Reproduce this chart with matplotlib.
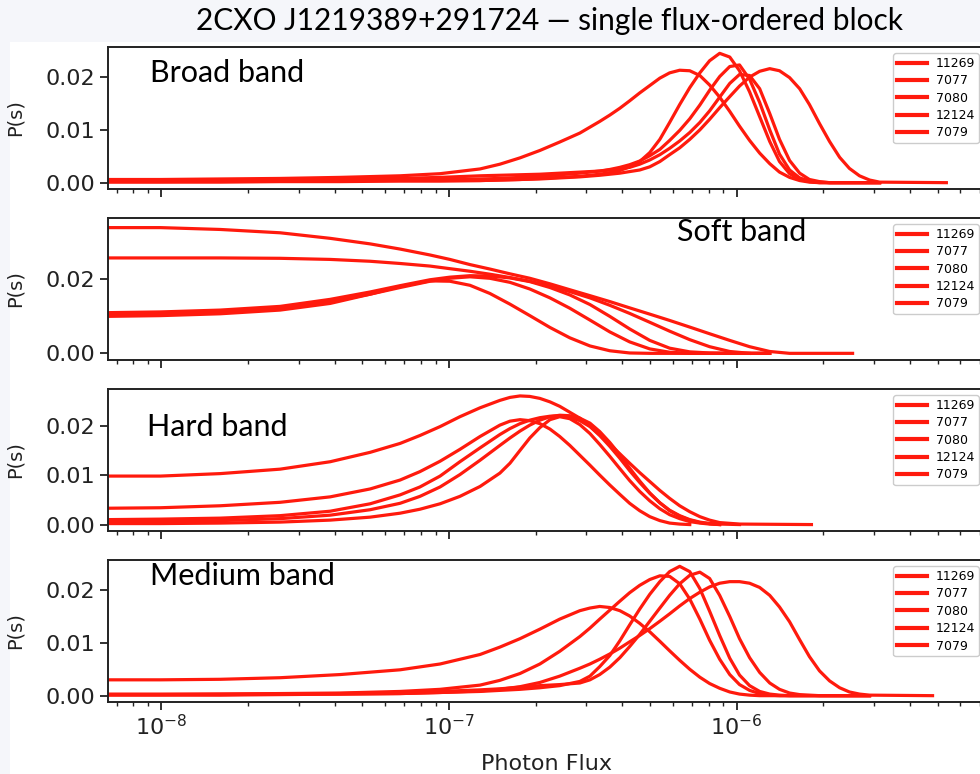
import matplotlib
matplotlib.use("Agg")
import matplotlib.pyplot as plt
import numpy as np
from matplotlib.patches import Rectangle
from matplotlib.ticker import FixedLocator, FormatStrFormatter

nan = float("nan")

obsids = ["11269", "7077", "7080", "12124", "7079"]
band_names = ["Broad band", "Soft band", "Hard band", "Medium band"]

# Broad band: log10(photon flux) sample points and P(s) of each obsid (nan = not drawn)
broad_logf = [-8.188, -8.003, -7.795, -7.587, -7.378, -7.170, -7.031, -6.892, -6.823, -6.753,
              -6.684, -6.615, -6.545, -6.476, -6.441, -6.406, -6.372, -6.337, -6.302, -6.267,
              -6.233, -6.198, -6.163, -6.128, -6.094, -6.059, -6.024, -5.990, -5.955, -5.920,
              -5.885, -5.851, -5.816, -5.781, -5.747, -5.712, -5.677, -5.642, -5.608, -5.573,
              -5.538, -5.503, -5.271]
broad_p = [
    [.0006, .0006, .0007, .0008, .0010, .0013, .0017, .0026, .0035, .0047,
     .0061, .0077, .0094, .0116, .0128, .0141, .0155, .0170, .0184, .0198,
     .0208, .0213, .0212, .0203, .0185, .0162, .0135, .0107, .0080, .0056,
     .0036, .0020, .0010, .0004, .0001, 0, 0, 0, 0, 0, 0, 0, nan],
    [.0003, .0003, .0003, .0003, .0004, .0004, .0004, .0004, .0005, .0006,
     .0008, .0010, .0012, .0016, .0019, .0023, .0030, .0040, .0057, .0082,
     .0114, .0148, .0180, .0208, .0231, .0245, .0238, .0212, .0172, .0125,
     .0078, .0040, .0017, .0006, .0002, 0, 0, 0, 0, 0, 0, 0, nan],
    [.0002, .0002, .0003, .0003, .0004, .0005, .0006, .0007, .0008, .0010,
     .0012, .0015, .0018, .0022, .0025, .0029, .0034, .0041, .0051, .0063,
     .0080, .0099, .0121, .0147, .0175, .0201, .0220, .0223, .0196, .0152,
     .0100, .0054, .0024, .0009, .0003, .0001, 0, 0, 0, 0, 0, 0, nan],
    [.0004, .0004, .0005, .0006, .0007, .0008, .0010, .0013, .0014, .0015,
     .0016, .0018, .0020, .0022, .0024, .0026, .0029, .0035, .0043, .0053,
     .0065, .0079, .0095, .0114, .0136, .0162, .0188, .0205, .0203, .0178,
     .0131, .0082, .0042, .0018, .0006, .0002, 0, 0, 0, 0, 0, 0, nan],
    [.0001, .0001, .0001, .0002, .0002, .0003, .0003, .0004, .0005, .0006,
     .0007, .0009, .0011, .0014, .0016, .0018, .0021, .0024, .0030, .0040,
     .0053, .0066, .0082, .0100, .0120, .0142, .0163, .0183, .0200, .0211,
     .0216, .0212, .0199, .0178, .0148, .0112, .0078, .0048, .0027, .0013,
     .0005, .0001, 0],
]

# Soft band
soft_logf = [-8.188, -8.003, -7.795, -7.587, -7.413, -7.274, -7.170, -7.066, -6.997, -6.927,
             -6.858, -6.788, -6.719, -6.649, -6.580, -6.510, -6.441, -6.372, -6.302, -6.233,
             -6.163, -6.094, -6.024, -5.955, -5.885, -5.816, -5.597]
soft_p = [
    [.0340, .0340, .0335, .0326, .0311, .0296, .0282, .0266, .0254, .0240,
     .0228, .0215, .0203, .0188, .0172, .0156, .0140, .0123, .0106, .0089,
     .0071, .0053, .0035, .0018, .0005, 0, 0],
    [.0258, .0258, .0258, .0257, .0254, .0249, .0243, .0236, .0229, .0222,
     .0214, .0205, .0195, .0182, .0167, .0150, .0130, .0108, .0084, .0060,
     .0037, .0018, .0005, 0, nan, nan, nan],
    [.0100, .0102, .0107, .0117, .0135, .0160, .0181, .0196, .0195, .0184,
     .0162, .0133, .0102, .0070, .0042, .0020, .0007, .0001, 0, 0,
     0, 0, 0, 0, 0, nan, nan],
    [.0105, .0107, .0112, .0122, .0140, .0160, .0178, .0195, .0203, .0207,
     .0203, .0192, .0174, .0150, .0122, .0090, .0058, .0031, .0012, .0003,
     0, 0, 0, 0, 0, nan, nan],
    [.0110, .0112, .0117, .0127, .0146, .0166, .0183, .0199, .0206, .0210,
     .0209, .0204, .0194, .0178, .0158, .0132, .0100, .0066, .0035, .0014,
     .0004, .0001, 0, 0, 0, nan, nan],
]

# Hard band
hard_logf = [-8.188, -8.003, -7.795, -7.587, -7.413, -7.274, -7.170, -7.101, -7.031, -6.962,
             -6.892, -6.823, -6.788, -6.753, -6.719, -6.684, -6.649, -6.615, -6.580, -6.545,
             -6.510, -6.476, -6.441, -6.406, -6.372, -6.337, -6.302, -6.267, -6.233, -6.198,
             -6.163, -6.128, -6.094, -6.059, -5.990, -5.740]
hard_p = [
    [.0098, .0098, .0103, .0112, .0127, .0146, .0164, .0180, .0198, .0218,
     .0236, .0251, .0257, .0260, .0259, .0255, .0248, .0239, .0227, .0215,
     .0199, .0181, .0162, .0143, .0124, .0105, .0087, .0069, .0053, .0038,
     .0026, .0016, .0009, .0004, .0001, 0],
    [.0033, .0034, .0038, .0045, .0056, .0072, .0090, .0107, .0128, .0152,
     .0178, .0201, .0209, .0212, .0210, .0204, .0193, .0178, .0160, .0140,
     .0120, .0100, .0080, .0061, .0043, .0028, .0016, .0008, .0003, .0001,
     0, nan, nan, nan, nan, nan],
    [.0010, .0011, .0013, .0018, .0027, .0042, .0060, .0076, .0098, .0127,
     .0155, .0182, .0194, .0204, .0211, .0216, .0219, .0220, .0217, .0210,
     .0198, .0180, .0158, .0134, .0109, .0085, .0063, .0044, .0029, .0018,
     .0010, .0005, .0002, 0, nan, nan],
    [.0006, .0006, .0008, .0012, .0019, .0030, .0043, .0057, .0076, .0101,
     .0130, .0160, .0175, .0189, .0201, .0211, .0218, .0221, .0220, .0215,
     .0205, .0188, .0166, .0141, .0114, .0088, .0064, .0044, .0028, .0017,
     .0009, .0004, .0002, .0001, 0, nan],
    [.0002, .0002, .0003, .0005, .0009, .0015, .0023, .0031, .0042, .0057,
     .0077, .0104, .0124, .0150, .0175, .0196, .0212, .0218, .0214, .0202,
     .0184, .0162, .0138, .0113, .0089, .0067, .0048, .0032, .0020, .0012,
     .0006, .0003, .0001, 0, nan, nan],
]

# Medium band
medium_logf = [-8.188, -8.003, -7.795, -7.587, -7.378, -7.170, -7.031, -6.892, -6.823, -6.753,
               -6.684, -6.615, -6.545, -6.510, -6.476, -6.441, -6.406, -6.372, -6.337, -6.302,
               -6.267, -6.233, -6.198, -6.163, -6.128, -6.094, -6.059, -6.024, -5.990, -5.955,
               -5.920, -5.885, -5.851, -5.816, -5.781, -5.747, -5.712, -5.677, -5.642, -5.608,
               -5.573, -5.538, -5.319]
medium_p = [
    [.0030, .0030, .0031, .0034, .0040, .0049, .0060, .0078, .0092, .0108,
     .0126, .0145, .0161, .0166, .0169, .0167, .0161, .0151, .0137, .0121,
     .0103, .0085, .0067, .0050, .0035, .0023, .0014, .0007, .0003, .0001,
     0, 0, 0, 0, 0, 0, 0, 0, 0, 0, 0, 0, nan],
    [.0003, .0003, .0003, .0004, .0005, .0008, .0012, .0020, .0029, .0042,
     .0060, .0084, .0112, .0128, .0145, .0162, .0179, .0195, .0209, .0220,
     .0227, .0226, .0212, .0183, .0145, .0105, .0069, .0040, .0021, .0010,
     .0004, .0001, 0, 0, 0, 0, 0, 0, 0, 0, 0, 0, nan],
    [.0002, .0002, .0002, .0003, .0003, .0004, .0006, .0008, .0010, .0012,
     .0015, .0019, .0027, .0037, .0055, .0076, .0104, .0134, .0164, .0192,
     .0216, .0235, .0245, .0235, .0203, .0160, .0114, .0071, .0039, .0019,
     .0008, .0003, .0001, 0, 0, 0, 0, 0, 0, 0, 0, 0, nan],
    [.0002, .0002, .0003, .0003, .0004, .0006, .0008, .0011, .0013, .0016,
     .0019, .0021, .0024, .0030, .0040, .0054, .0072, .0093, .0116, .0141,
     .0166, .0190, .0212, .0228, .0234, .0222, .0190, .0150, .0108, .0072,
     .0044, .0024, .0012, .0005, .0002, .0001, 0, 0, 0, 0, 0, 0, nan],
    [.0001, .0001, .0001, .0002, .0003, .0004, .0006, .0009, .0012, .0017,
     .0025, .0037, .0052, .0060, .0069, .0079, .0090, .0102, .0114, .0127,
     .0141, .0155, .0170, .0184, .0196, .0206, .0213, .0216, .0216, .0213,
     .0205, .0190, .0168, .0140, .0106, .0074, .0047, .0028, .0015, .0007,
     .0003, .0001, 0],
]

panel_logf = [broad_logf, soft_logf, hard_logf, medium_logf]
panel_p = [broad_p, soft_p, hard_p, medium_p]
panel_ylim = [(-0.0012, 0.0257), (-0.0018, 0.0366), (-0.0013, 0.0274), (-0.0012, 0.0257)]
panel_yticks = [[0.0, 0.01, 0.02], [0.0, 0.02], [0.0, 0.01, 0.02], [0.0, 0.01, 0.02]]

# pixel layout of the four panels (top, bottom) in a 980x774 canvas
PANEL_PX = [(47, 189), (218, 360), (389, 531), (560, 702)]
LABEL_POS = [(0.048, 0.82), (0.649, 0.90), (0.045, 0.73), (0.048, 0.89)]

LINE_RED = "#ff1a0d"
INK = "#222222"
TEXT_FONT = ["Lato", "DejaVu Sans"]

W, H = 980, 774
fig = plt.figure(figsize=(W / 100, H / 100), dpi=100)
fig.patch.set_facecolor("#f5f6fa")
fig.patches.append(Rectangle((10 / W, 0), 1, 1 - 42 / H, transform=fig.transFigure,
                             facecolor="white", edgecolor="none", zorder=-10))

axes = []
for i, (top, bottom) in enumerate(PANEL_PX):
    ax = fig.add_axes([107.5 / W, 1 - bottom / H, (985 - 107.5) / W, (bottom - top) / H])
    ax.set_zorder(2)
    axes.append(ax)
    flux = 10 ** np.array(panel_logf[i])
    for p, name in zip(panel_p[i], obsids):
        ax.plot(flux, p, color=LINE_RED, lw=2.3, label=name, solid_joinstyle="round")

    ax.set_xscale("log")
    ax.set_xlim(6.5e-9, 7.3e-6)
    ax.set_ylim(*panel_ylim[i])
    ax.yaxis.set_major_locator(FixedLocator(panel_yticks[i]))
    ax.yaxis.set_major_formatter(FormatStrFormatter("%.2f"))
    ax.set_ylabel("P(s)", fontsize=14, color=INK)
    ax.yaxis.set_label_coords(-0.094, 0.5)
    ax.tick_params(which="major", length=5.5, width=1.3, labelsize=16, colors=INK)
    ax.tick_params(which="minor", length=3, width=1.0, colors=INK)
    for spine in ax.spines.values():
        spine.set_linewidth(1.4)
        spine.set_color(INK)
    if i < 3:
        ax.tick_params(axis="x", which="both", labelbottom=False)

    leg = ax.legend(loc="upper right", fontsize=9, handlelength=2.4, handletextpad=0.7,
                    labelspacing=0.35, borderpad=0.3, framealpha=1, edgecolor="#cccccc")
    for handle in leg.get_lines():
        handle.set_linewidth(3.0)
    ax.text(*LABEL_POS[i], band_names[i], transform=ax.transAxes, ha="left", va="center",
            fontsize=22, family=TEXT_FONT, color="black")

axes[-1].set_xlabel("Photon Flux", fontsize=16, color=INK, labelpad=10)

fig.text(549 / W, 1 - 21 / H, "2CXO J1219389+291724 \u2014 single flux-ordered block",
         ha="center", va="center", fontsize=21.5, family=TEXT_FONT, color="black")

fig.savefig("out.png", dpi=100, facecolor=fig.get_facecolor())
